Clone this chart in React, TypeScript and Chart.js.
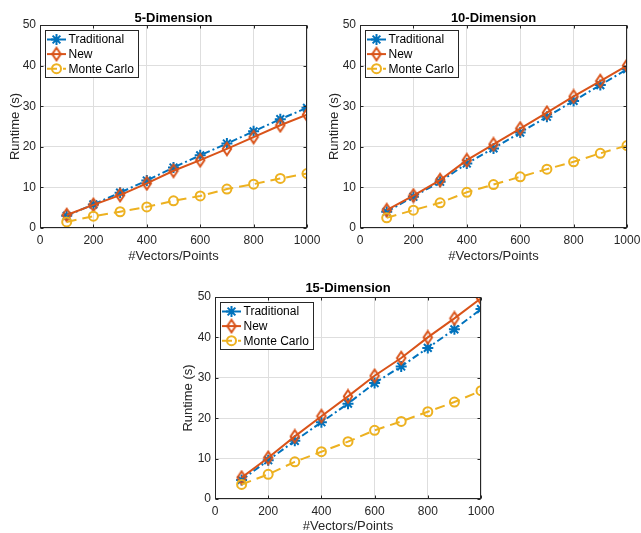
import React, { useEffect, useRef } from "react";
import { Chart, registerables } from "chart.js";

Chart.register(...registerables);

// ---------------- data ----------------
const xValues = [100, 200, 300, 400, 500, 600, 700, 800, 900, 1000];
const seriesNames = ["Traditional", "New", "Monte Carlo"];
const panelTitles = ["5-Dimension", "10-Dimension", "15-Dimension"];
const xAxisLabel = "#Vectors/Points";
const yAxisLabel = "Runtime (s)";

const traditional5 = [3.0, 5.8, 8.7, 11.7, 14.9, 17.9, 20.8, 23.8, 26.8, 29.6];
const new5 = [3.2, 5.7, 8.1, 11.0, 14.1, 16.7, 19.5, 22.4, 25.3, 27.9];
const monteCarlo5 = [1.5, 2.9, 4.0, 5.2, 6.7, 7.9, 9.6, 10.8, 12.2, 13.4];

const traditional10 = [4.0, 7.7, 11.4, 15.9, 19.6, 23.5, 27.4, 31.3, 35.2, 39.1];
const new10 = [4.4, 8.0, 11.8, 16.7, 20.6, 24.5, 28.4, 32.4, 36.2, 40.0];
const monteCarlo10 = [2.5, 4.4, 6.2, 8.8, 10.7, 12.6, 14.5, 16.3, 18.4, 20.3];

const traditional15 = [4.7, 9.6, 14.4, 19.0, 23.6, 28.7, 32.8, 37.4, 42.0, 47.0];
const new15 = [5.3, 10.2, 15.5, 20.5, 25.4, 30.5, 34.9, 40.0, 44.7, 49.7];
const monteCarlo15 = [3.6, 6.1, 9.2, 11.7, 14.2, 17.0, 19.2, 21.6, 24.0, 26.8];

const xMin = 0;
const xMax = 1000;
const xStep = 200;
const yMin = 0;
const yMax = 50;
const yStep = 10;

// ---------------- styles ----------------
const BLUE = "#0072BD";
const ORANGE = "#D95319";
const YELLOW = "#EDB120";
const AXIS = "#262626";
const GRID = "#dedede";
const FONT = "'Liberation Sans', Arial, Helvetica, sans-serif";

function makeDiamond(color: string): HTMLCanvasElement {
  const c = document.createElement("canvas");
  c.width = 12;
  c.height = 16;
  const ctx = c.getContext("2d")!;
  ctx.strokeStyle = color;
  ctx.lineWidth = 2;
  ctx.lineJoin = "miter";
  ctx.beginPath();
  ctx.moveTo(6, 1.8);
  ctx.lineTo(10.2, 8);
  ctx.lineTo(6, 14.2);
  ctx.lineTo(1.8, 8);
  ctx.closePath();
  ctx.stroke();
  return c;
}

type PanelProps = {
  title: string;
  trad: number[];
  neu: number[];
  mc: number[];
  left: number;
  top: number;
  width: number;
  height: number;
  plotLeft: number;
  plotTop: number;
  plotRight: number;
  plotBottom: number;
  titleCenter: number;
  yTitleOffset: number;
};

function Panel(p: PanelProps) {
  const ref = useRef<HTMLCanvasElement>(null);

  useEffect(() => {
    const canvas = ref.current!;
    const diamond = makeDiamond(ORANGE);
    const series = [
      { label: seriesNames[0], data: p.trad, color: BLUE, dash: [7, 3, 2, 3], style: "star" as any, radius: 5.5, order: 3 },
      { label: seriesNames[1], data: p.neu, color: ORANGE, dash: [] as number[], style: diamond as any, radius: 6, order: 2 },
      { label: seriesNames[2], data: p.mc, color: YELLOW, dash: [10, 6], style: "circle" as any, radius: 4.5, order: 1 },
    ];

    const drawMarker = (ctx: CanvasRenderingContext2D, kind: number, x: number, y: number) => {
      ctx.save();
      ctx.setLineDash([]);
      if (kind === 0) {
        ctx.strokeStyle = BLUE;
        ctx.lineWidth = 2;
        const r = 5.5;
        const d = r * Math.SQRT1_2;
        ctx.beginPath();
        ctx.moveTo(x - r, y); ctx.lineTo(x + r, y);
        ctx.moveTo(x, y - r); ctx.lineTo(x, y + r);
        ctx.moveTo(x - d, y - d); ctx.lineTo(x + d, y + d);
        ctx.moveTo(x - d, y + d); ctx.lineTo(x + d, y - d);
        ctx.stroke();
      } else if (kind === 1) {
        ctx.drawImage(diamond, x - diamond.width / 2, y - diamond.height / 2);
      } else {
        ctx.strokeStyle = YELLOW;
        ctx.lineWidth = 2;
        ctx.beginPath();
        ctx.arc(x, y, 4.5, 0, Math.PI * 2);
        ctx.stroke();
      }
      ctx.restore();
    };

    const framePlugin = {
      id: "matlabFrame",
      afterDatasetsDraw(chart: any) {
        const { ctx, chartArea } = chart;
        const l = Math.round(chartArea.left) + 0.5;
        const r = Math.round(chartArea.right) - 0.5;
        const t = Math.round(chartArea.top) + 0.5;
        const b = Math.round(chartArea.bottom) - 0.5;
        ctx.save();
        ctx.strokeStyle = AXIS;
        ctx.lineWidth = 1;
        ctx.strokeRect(l, t, r - l, b - t);
        const tl = 3;
        ctx.beginPath();
        for (const tk of chart.scales.x.ticks) {
          const px = Math.round(chart.scales.x.getPixelForValue(tk.value)) + 0.5;
          ctx.moveTo(px, b); ctx.lineTo(px, b - tl);
          ctx.moveTo(px, t); ctx.lineTo(px, t + tl);
        }
        for (const tk of chart.scales.y.ticks) {
          const py = Math.round(chart.scales.y.getPixelForValue(tk.value)) + 0.5;
          ctx.moveTo(l, py); ctx.lineTo(l + tl, py);
          ctx.moveTo(r, py); ctx.lineTo(r - tl, py);
        }
        ctx.stroke();
        ctx.restore();
      },
    };

    const legendPlugin = {
      id: "matlabLegend",
      afterDraw(chart: any) {
        const { ctx, chartArea } = chart;
        const bx = Math.round(chartArea.left + 5) + 0.5;
        const by = Math.round(chartArea.top + 4.5) + 0.5;
        const bw = 93;
        const bh = 47;
        ctx.save();
        ctx.fillStyle = "#ffffff";
        ctx.fillRect(bx, by, bw, bh);
        ctx.strokeStyle = AXIS;
        ctx.lineWidth = 1;
        ctx.strokeRect(bx, by, bw, bh);
        series.forEach((s, i) => {
          const y = by + 9 + i * 14.6;
          ctx.save();
          ctx.strokeStyle = s.color;
          ctx.lineWidth = 2;
          ctx.setLineDash(s.dash);
          ctx.beginPath();
          ctx.moveTo(bx + 1.5, y);
          ctx.lineTo(bx + 20.5, y);
          ctx.stroke();
          ctx.restore();
          drawMarker(ctx, i, bx + 11, y);
          ctx.fillStyle = "#000000";
          ctx.font = `12px ${FONT}`;
          ctx.textBaseline = "middle";
          ctx.textAlign = "left";
          ctx.fillText(s.label, bx + 23, y + 0.5);
        });
        ctx.restore();
      },
    };

    const titleLH = 13;
    const chart = new Chart(canvas, {
      type: "line",
      data: {
        datasets: series.map((s) => ({
          label: s.label,
          data: xValues.map((x, i) => ({ x, y: s.data[i] })),
          borderColor: s.color,
          backgroundColor: "rgba(0,0,0,0)",
          borderWidth: 2,
          borderDash: s.dash,
          pointStyle: s.style,
          pointRadius: s.radius,
          pointHoverRadius: s.radius,
          pointBorderWidth: 2,
          pointBorderColor: s.color,
          pointBackgroundColor: "rgba(0,0,0,0)",
          order: s.order,
          tension: 0,
          fill: false,
        })),
      },
      options: {
        animation: false,
        responsive: false,
        events: [],
        layout: { autoPadding: false, padding: { left: 0, right: p.width - p.plotRight, top: 0, bottom: 0 } },
        plugins: {
          legend: { display: false },
          tooltip: { enabled: false },
          title: {
            display: true,
            text: p.title,
            fullSize: false,
            color: "#000000",
            font: { family: FONT, size: 13, weight: "bold", lineHeight: 1 },
            padding: { top: p.titleCenter - titleLH / 2, bottom: p.plotTop - p.titleCenter - titleLH / 2 },
          },
        },
        scales: {
          x: {
            type: "linear",
            min: xMin,
            max: xMax,
            afterFit: (s: any) => {
              s.height = p.height - p.plotBottom;
              s.paddingLeft = 0;
              s.paddingRight = 0;
            },
            grid: { color: GRID, drawTicks: false, lineWidth: 1 },
            border: { display: false },
            ticks: {
              stepSize: xStep,
              color: AXIS,
              padding: 5,
              maxRotation: 0,
              autoSkip: false,
              font: { family: FONT, size: 12 },
              callback: (v: any) => String(v),
            },
            title: {
              display: true,
              text: xAxisLabel,
              color: AXIS,
              font: { family: FONT, size: 13 },
              padding: { top: 0, bottom: -1 },
            },
          },
          y: {
            type: "linear",
            min: yMin,
            max: yMax,
            afterFit: (s: any) => {
              s.width = p.plotLeft;
              s.paddingTop = 0;
              s.paddingBottom = 0;
            },
            grid: { color: GRID, drawTicks: false, lineWidth: 1 },
            border: { display: false },
            ticks: {
              stepSize: yStep,
              color: AXIS,
              padding: 4,
              font: { family: FONT, size: 12 },
              callback: (v: any) => String(v),
            },
            title: {
              display: true,
              text: yAxisLabel,
              color: AXIS,
              font: { family: FONT, size: 13 },
              padding: { top: p.yTitleOffset, bottom: 0 },
            },
          },
        },
      } as any,
      plugins: [framePlugin, legendPlugin],
    });
    return () => chart.destroy();
  }, []);

  return (
    <div style={{ position: "absolute", left: p.left, top: p.top, width: p.width, height: p.height }}>
      <canvas ref={ref} width={p.width} height={p.height} style={{ display: "block" }} />
    </div>
  );
}

export default function App() {
  return (
    <div style={{ position: "absolute", left: 0, top: 0, width: 641, height: 533, background: "#ffffff", overflow: "hidden" }}>
      <Panel
        title={panelTitles[0]}
        trad={traditional5}
        neu={new5}
        mc={monteCarlo5}
        left={0}
        top={0}
        width={320}
        height={263}
        plotLeft={40}
        plotTop={25}
        plotRight={307}
        plotBottom={228}
        titleCenter={18}
        yTitleOffset={7.2}
      />
      <Panel
        title={panelTitles[1]}
        trad={traditional10}
        neu={new10}
        mc={monteCarlo10}
        left={320}
        top={0}
        width={321}
        height={263}
        plotLeft={40}
        plotTop={25}
        plotRight={307}
        plotBottom={228}
        titleCenter={18}
        yTitleOffset={6.2}
      />
      <Panel
        title={panelTitles[2]}
        trad={traditional15}
        neu={new15}
        mc={monteCarlo15}
        left={170}
        top={270}
        width={330}
        height={263}
        plotLeft={45}
        plotTop={27}
        plotRight={311}
        plotBottom={229}
        titleCenter={18}
        yTitleOffset={10.5}
      />
    </div>
  );
}
